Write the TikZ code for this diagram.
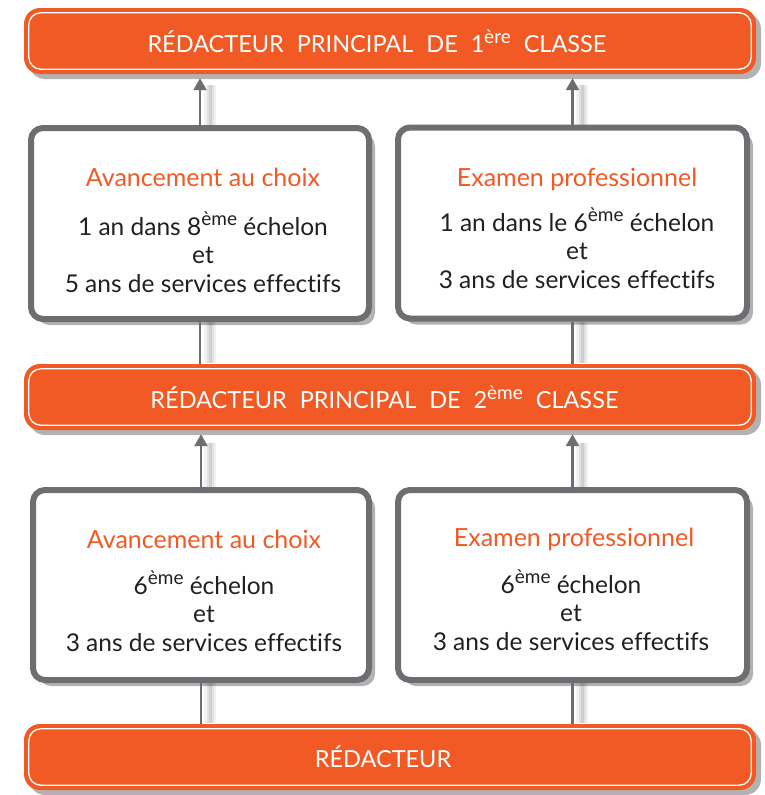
\documentclass[tikz,border=0pt]{standalone}
\usepackage{fontspec}
\setmainfont[Ligatures=NoCommon]{Lato}
\usetikzlibrary{arrows.meta,shadows}
\definecolor{orng}{HTML}{F15A24}
\definecolor{gry}{HTML}{6D6E71}
\definecolor{txt}{HTML}{231F20}
\newcommand{\sups}[1]{\raisebox{0.8ex}{\fontsize{19}{19}\selectfont #1}}
\newcommand{\wsp}{\hspace{0.55em}}
\tikzset{
  banner/.style={fill=orng, rounded corners=16pt, minimum width=732pt, minimum height=66pt,
    inner sep=0pt, text=white, font=\fontsize{23.5}{26}\selectfont,
    drop shadow={opacity=0.3, shadow xshift=5pt, shadow yshift=-5pt, fill=black}},
  innerline/.style={draw=white, line width=1.3pt, rounded corners=12pt},
  card/.style={draw=gry, line width=6pt, fill=white, rounded corners=12pt, inner sep=0pt,
    drop shadow={opacity=0.3, shadow xshift=6pt, shadow yshift=-6pt, fill=black}},
  ttl/.style={text=orng, font=\fontsize{25}{28}\selectfont, inner sep=0pt},
  body/.style={text=txt, font=\fontsize{24.5}{28.5}\selectfont, align=center, inner sep=0pt},
  conn/.style={draw=gry, line width=2.5pt},
  tip/.style={-{Triangle[width=13pt,length=12pt]}}
}
\begin{document}
\begin{tikzpicture}[x=1pt,y=-1pt]
\useasboundingbox (0,0) rectangle (765,795);
% soft connector shadows
\foreach \xx/\ya/\yb in {210/85/125, 582/85/125, 210/322/363, 582/322/363, 210/443/487, 582/443/487, 210/683/723, 582/683/723}{
  \draw[black, line width=12pt, opacity=0.05] (\xx,\ya) -- (\xx,\yb);
  \draw[black, line width=7pt, opacity=0.07] (\xx,\ya) -- (\xx,\yb);
  \draw[black, line width=3pt, opacity=0.08] (\xx,\ya) -- (\xx,\yb);
}
% banners
\node[banner] (b1) at (390,41) {R\'EDACTEUR\wsp PRINCIPAL\wsp DE\wsp 1\sups{\`ere}\wsp CLASSE\hspace*{26pt}};
\node[banner] (b2) at (390,397) {R\'EDACTEUR\wsp PRINCIPAL\wsp DE\wsp 2\sups{\`eme}\wsp CLASSE\hspace*{11pt}};
\node[banner] (b3) at (390,757) {R\'EDACTEUR\hspace*{14pt}};
\foreach \b in {b1,b2,b3}
  \draw[innerline] ([shift={(5,5)}]\b.north west) rectangle ([shift={(-5,-5)}]\b.south east);
% cards
\node[card, minimum width=338pt, minimum height=191pt] (c1) at (200,223.5) {};
\node[card, minimum width=349pt, minimum height=191pt] (c2) at (572.5,223) {};
\node[card, minimum width=336pt, minimum height=190pt] (c3) at (201,585) {};
\node[card, minimum width=349pt, minimum height=190pt] (c4) at (572.5,585) {};
% card texts
\node[ttl] (t1) at (203,177) {Avancement au choix};
\node[body] (d1) at (203,252) {1 an dans 8\sups{\`eme} \'echelon\\ et\\ 5 ans de services effectifs};
\node[ttl] (t2) at (577,179) {Examen professionnel};
\node[body] (d2) at (577,248) {1 an dans le 6\sups{\`eme} \'echelon\\ et\\ 3 ans de services effectifs};
\node[ttl] (t3) at (204,539) {Avancement au choix};
\node[body] (d3) at (204,611) {6\sups{\`eme} \'echelon\\ et\\ 3 ans de services effectifs};
\node[ttl] (t4) at (574,539) {Examen professionnel};
\node[body] (d4) at (571,610) {6\sups{\`eme} \'echelon\\ et\\ 3 ans de services effectifs};
% connectors
\draw[conn, tip] (c1.north) -- ([yshift=-4pt]b1.south -| c1.north);
\draw[conn, tip] (c2.north) -- ([yshift=-4pt]b1.south -| c2.north);
\draw[conn] (c1.south) -- (b2.north -| c1.south);
\draw[conn] (c2.south) -- (b2.north -| c2.south);
\draw[conn, tip] (c3.north) -- ([yshift=-4pt]b2.south -| c3.north);
\draw[conn, tip] (c4.north) -- ([yshift=-4pt]b2.south -| c4.north);
\draw[conn] (c3.south) -- (b3.north -| c3.south);
\draw[conn] (c4.south) -- (b3.north -| c4.south);
\end{tikzpicture}
\end{document}
